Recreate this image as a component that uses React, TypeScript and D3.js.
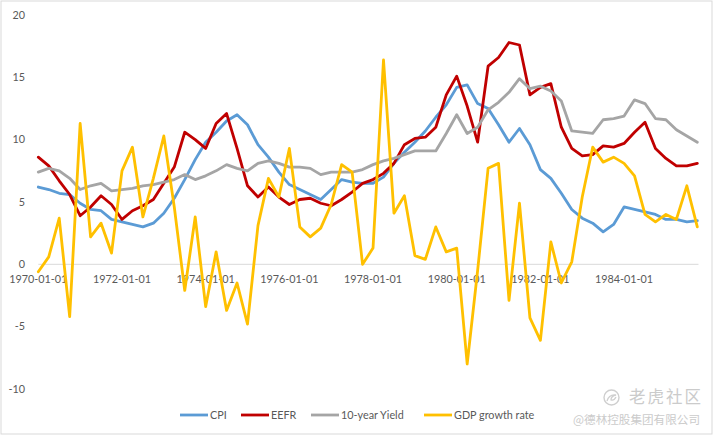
import * as d3 from 'd3';

// quarterly observations, 1970-Q1 .. 1985-Q4
const quarters = d3.timeMonth.range(new Date(1970, 0, 1), new Date(1986, 0, 1), 3);

const cpi = [
  6.2, 6.0, 5.7, 5.6, 4.9, 4.4, 4.3, 3.6, 3.4, 3.2, 3.0, 3.3, 4.1, 5.3, 6.8, 8.4,
  9.8, 10.6, 11.5, 12.0, 11.2, 9.6, 8.6, 7.4, 6.4, 6.0, 5.6, 5.2, 6.0, 6.8, 6.6, 6.5,
  6.5, 7.0, 8.1, 9.0, 9.8, 10.7, 11.8, 12.8, 14.2, 14.4, 12.9, 12.5, 11.2, 9.8, 10.9, 9.6,
  7.6, 6.9, 5.7, 4.4, 3.7, 3.3, 2.6, 3.2, 4.6, 4.4, 4.2, 4.0, 3.6, 3.6, 3.4, 3.5,
];

const eefr = [
  8.6, 7.9, 6.7, 5.6, 3.9, 4.6, 5.5, 4.8, 3.6, 4.3, 4.7, 5.2, 6.5, 7.8, 10.6, 10.0,
  9.3, 11.3, 12.1, 9.3, 6.3, 5.4, 6.2, 5.4, 4.8, 5.2, 5.3, 4.9, 4.7, 5.2, 5.8, 6.5,
  6.8, 7.3, 8.1, 9.6, 10.1, 10.2, 11.0, 13.6, 15.1, 12.7, 9.8, 15.9, 16.6, 17.8, 17.6, 13.6,
  14.2, 14.5, 11.0, 9.3, 8.7, 8.8, 9.5, 9.4, 9.7, 10.6, 11.4, 9.3, 8.5, 7.9, 7.9, 8.1,
];

const yield10 = [
  7.4, 7.7, 7.5, 6.9, 6.0, 6.3, 6.5, 5.9, 6.0, 6.1, 6.3, 6.4, 6.6, 6.8, 7.2, 6.8,
  7.1, 7.5, 8.0, 7.7, 7.5, 8.1, 8.3, 8.1, 7.8, 7.8, 7.7, 7.2, 7.4, 7.4, 7.4, 7.6,
  8.0, 8.3, 8.5, 8.8, 9.1, 9.1, 9.1, 10.5, 12.0, 10.5, 11.0, 12.4, 13.0, 13.8, 14.9, 14.1,
  14.3, 13.9, 13.1, 10.7, 10.6, 10.5, 11.6, 11.7, 11.9, 13.2, 12.9, 11.7, 11.6, 10.8, 10.3, 9.8,
];

const gdp = [
  -0.6, 0.6, 3.7, -4.2, 11.3, 2.2, 3.3, 0.9, 7.5, 9.4, 3.8, 6.9, 10.3, 4.6, -2.1, 3.8,
  -3.4, 1.0, -3.7, -1.5, -4.8, 3.1, 6.9, 5.4, 9.3, 3.0, 2.2, 2.9, 4.8, 8.0, 7.4, 0.0,
  1.3, 16.4, 4.1, 5.5, 0.7, 0.4, 3.0, 1.0, 1.3, -8.0, -0.5, 7.7, 8.1, -2.9, 4.9, -4.3,
  -6.1, 1.8, -1.5, 0.2, 5.4, 9.4, 8.2, 8.6, 8.1, 7.1, 4.0, 3.4, 4.0, 3.6, 6.3, 3.0,
];

const yTicks = [-10, -5, 0, 5, 10, 15, 20];

const series = [
  { name: 'CPI', values: cpi, color: '#5B9BD5' },
  { name: 'EEFR', values: eefr, color: '#C00000' },
  { name: '10-year Yield', values: yield10, color: '#A5A5A5' },
  { name: 'GDP growth rate', values: gdp, color: '#FFC000' },
];

const W = 714;
const H = 436;
const font = 'Lato, "Open Sans", sans-serif';
const cjk = '"Noto Sans CJK SC", sans-serif';

export default function App() {
  const x = d3.scaleLinear().domain([0, quarters.length - 1]).range([38.3, 697.3]);
  const y = d3.scaleLinear().domain([-10, 20]).range([388.9, 15.1]);
  const fmt = d3.timeFormat('%Y-%m-%d');

  const line = d3.line<number>()
    .x((_, i) => x(i))
    .y(d => y(d));

  const legendX = [180, 241, 311, 424];

  return (
    <>
      <style>{'body{margin:0}'}</style>
      <svg width={W} height={H} style={{ display: 'block', background: '#fff' }}>
        <rect x={1} y={1} width={711} height={433} fill="#fff" stroke="#d9d9d9" />

        {/* y axis labels */}
        {yTicks.map(t => (
          <text key={t} x={25} y={y(t)} dy="0.35em" textAnchor="end"
            fontFamily={font} fontSize={10.8} fill="#595959">{t}</text>
        ))}

        {/* zero line */}
        <line x1={x(0)} x2={698.5} y1={y(0)} y2={y(0)} stroke="#d9d9d9" strokeWidth={1} />

        {/* x labels every two years */}
        {quarters.map((q, i) => i % 8 === 0 ? (
          <text key={i} x={x(i)} y={y(0) + 19} textAnchor="middle"
            fontFamily={font} fontSize={10.8} fill="#595959">{fmt(q)}</text>
        ) : null)}

        {series.map(s => (
          <path key={s.name} d={line(s.values) || ''} fill="none" stroke={s.color}
            strokeWidth={2.8} strokeLinejoin="round" strokeLinecap="round" />
        ))}

        {/* legend */}
        {series.map((s, i) => (
          <g key={s.name} transform={`translate(${legendX[i]},415)`}>
            <line x1={0} x2={28} y1={0} y2={0} stroke={s.color} strokeWidth={2.8} />
            <text x={30} y={0} dy="0.35em" fontFamily={font} fontSize={10.8} fill="#595959">{s.name}</text>
          </g>
        ))}

        {/* watermark */}
        <g>
          <circle cx={611.5} cy={397.5} r={7.5} fill="none" stroke="#cfcfcf" strokeWidth={1.4} />
          <path d="M607,401 q2,-7 9,-6 q-5,1 -5,5 q3,1 5,-3" fill="none" stroke="#cfcfcf" strokeWidth={1.3} />
          <text x={629} y={397.5} dy="0.36em" fontFamily={cjk} fontSize={16.5}
            fill="#cbcbcb" letterSpacing={2}>老虎社区</text>
          <text x={700} y={419.5} dy="0.36em" textAnchor="end" fontFamily={cjk} fontSize={11.6}
            fill="#cbcbcb">@德林控股集团有限公司</text>
        </g>
      </svg>
    </>
  );
}
